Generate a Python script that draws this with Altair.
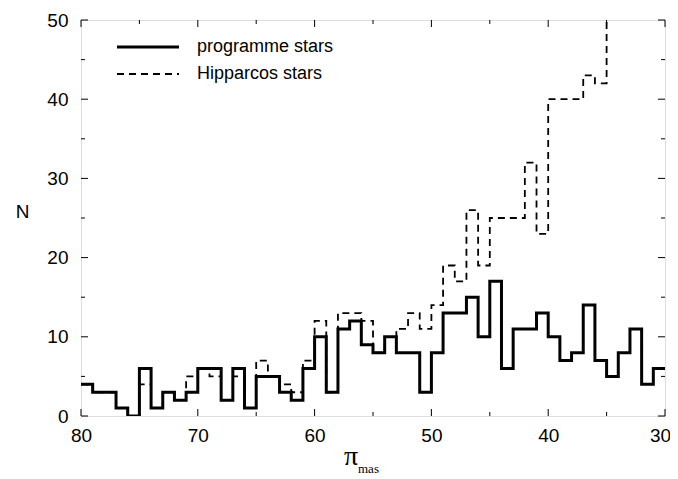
import altair as alt
import pandas as pd

# ---------------- data ----------------
bin_left = list(range(80, 30, -1))          # left edges of 1-mas bins, 80 ... 31
programme = [4, 3, 3, 1, 0, 6, 1, 3, 2, 3,
             6, 6, 2, 6, 1, 5, 5, 3, 2, 6,
             10, 3, 11, 12, 9, 8, 10, 8, 8, 3,
             8, 13, 13, 15, 10, 17, 6, 11, 11, 13,
             10, 7, 8, 14, 7, 5, 8, 11, 4, 6]
# Hipparcos counts for bins 80 ... 35; the last one runs off the top of the plot
hipparcos = [4, 3, 3, 1, 0, 4, 1, 3, 2, 5,
             6, 5, 2, 5, 1, 7, 5, 4, 3, 7,
             12, 3, 13, 13, 12, 8, 10, 11, 13, 11,
             14, 19, 17, 26, 19, 25, 25, 25, 32, 23,
             40, 40, 40, 43, 42, 55]
series = ["programme stars", "Hipparcos stars"]
x_major = [30, 40, 50, 60, 70, 80]
x_minor = [35, 45, 55, 65, 75]
y_major = [0, 10, 20, 30, 40, 50]
y_minor = [5, 15, 25, 35, 45]

W, H = 584, 396
FONT = "Liberation Sans"

def step_frame(vals, width=1):
    xs = bin_left[:len(vals)] + [bin_left[len(vals) - 1] - width]
    ns = list(vals) + [vals[-1]]
    return pd.DataFrame({"x": xs, "n": ns, "i": list(range(len(xs)))})

xscale = alt.Scale(domain=[30, 80], reverse=True, nice=False, zero=False)
yscale = alt.Scale(domain=[0, 50], nice=False, zero=True)

xaxis = alt.Axis(values=x_major, ticks=False, domain=False, grid=False,
                 labelFont=FONT, labelFontSize=19, labelColor="black",
                 labelPadding=10, labelFlush=False, labelOverlap=False,
                 labelOffset={"condition": {"test": "datum.value == 30", "value": -5},
                              "value": 0},
                 title=None)
yaxis = alt.Axis(values=y_major, ticks=False, domain=False, grid=False,
                 labelFont=FONT, labelFontSize=19, labelColor="black",
                 labelPadding=13, labelFlush=False, labelOverlap=False,
                 title="N", titleAngle=0,
                 titleFont=FONT, titleFontSize=19, titleFontWeight="normal",
                 titleColor="black", titleX=-59, titleY=191,
                 titleAlign="center", titleBaseline="middle")

X = lambda f: alt.X(f, scale=xscale, axis=xaxis)
Y = lambda f: alt.Y(f, scale=yscale, axis=yaxis)

hip = alt.Chart(step_frame(hipparcos)).mark_line(
    interpolate="step-after", color="black", strokeWidth=1.8, clip=True,
    strokeDash=[7, 5]
).encode(x=X("x:Q"), y=Y("n:Q"), order=alt.Order("i:Q"))

prog = alt.Chart(step_frame(programme)).mark_line(
    interpolate="step-after", color="black", strokeWidth=3, clip=True,
    strokeJoin="miter", strokeCap="square"
).encode(x=X("x:Q"), y=Y("n:Q"), order=alt.Order("i:Q"))

layers = [hip, prog]

# inward ticks on all four sides
def xticks(vals, length):
    df = pd.DataFrame({"t": vals})
    base = alt.Chart(df).mark_rule(color="black", strokeWidth=1)
    bot = base.encode(x=X("t:Q"), y=alt.value(H), y2=alt.value(H - length))
    top = base.encode(x=X("t:Q"), y=alt.value(0), y2=alt.value(length))
    return [bot, top]

def yticks(vals, length):
    df = pd.DataFrame({"t": vals})
    base = alt.Chart(df).mark_rule(color="black", strokeWidth=1)
    left = base.encode(y=Y("t:Q"), x=alt.value(0), x2=alt.value(length))
    right = base.encode(y=Y("t:Q"), x=alt.value(W), x2=alt.value(W - length))
    return [left, right]

layers += xticks(x_major, 7) + xticks(x_minor, 4) + yticks(y_major, 7) + yticks(y_minor, 4)

# legend
leg_rows = [(series[0], 27, None, 3), (series[1], 54, [7, 5], 1.8)]
for name, ypos, dash, sw in leg_rows:
    df = pd.DataFrame({"label": [name]})
    kw = dict(color="black", strokeWidth=sw)
    if dash:
        kw["strokeDash"] = dash
    layers.append(alt.Chart(df).mark_rule(**kw).encode(
        x=alt.value(36), x2=alt.value(98), y=alt.value(ypos)))
    layers.append(alt.Chart(df).mark_text(
        align="left", baseline="middle", font=FONT, fontSize=18, color="black"
    ).encode(x=alt.value(116), y=alt.value(ypos), text="label:N"))

# x-axis title: pi with subscript "mas"
t1 = pd.DataFrame({"s": ["π"]})
t2 = pd.DataFrame({"s": ["mas"]})
layers.append(alt.Chart(t1).mark_text(
    align="center", baseline="alphabetic", font="Liberation Serif", fontSize=28, color="black"
).encode(x=alt.value(270), y=alt.value(445), text="s:N"))
layers.append(alt.Chart(t2).mark_text(
    align="left", baseline="alphabetic", font="Liberation Serif", fontSize=13, color="black"
).encode(x=alt.value(277), y=alt.value(453), text="s:N"))

chart = alt.layer(*layers).properties(
    width=W, height=H,
    padding={"left": 73, "top": 12, "right": 5, "bottom": 62},
    autosize=alt.AutoSizeParams(type="none"),
).configure_view(stroke="black", strokeWidth=1).configure(background="white")

chart.save("out.html", embed_options={"renderer": "svg", "actions": False})
